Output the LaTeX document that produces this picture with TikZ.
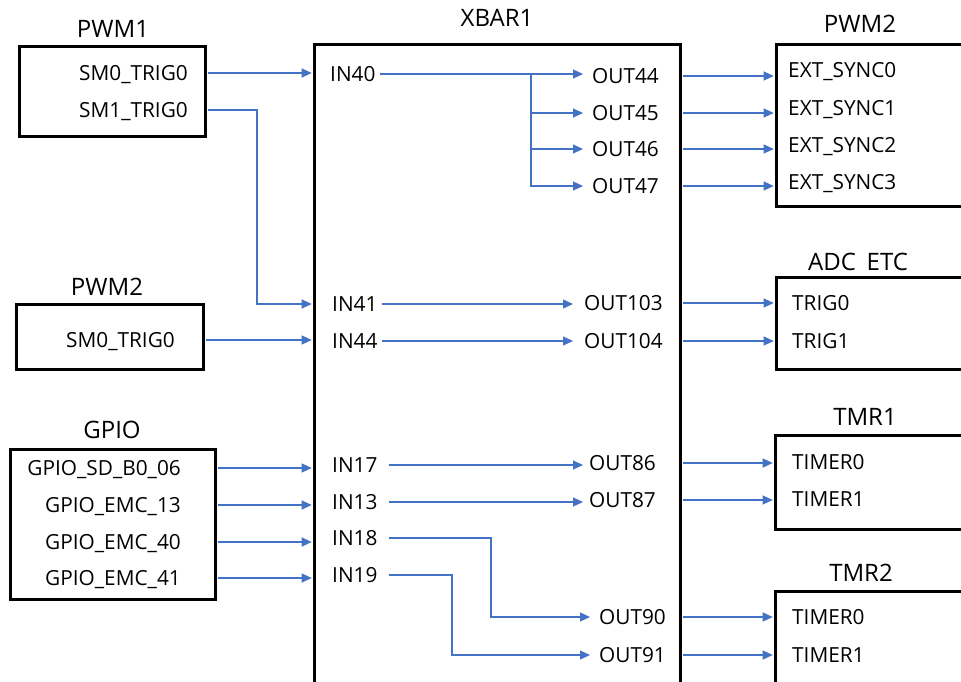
\documentclass[tikz,border=0pt]{standalone}
\usepackage{fontspec}
\setmainfont{Open Sans}
\usetikzlibrary{arrows.meta}
\definecolor{linkblue}{HTML}{4472C4}
\begin{document}
\begin{tikzpicture}[x=1pt,y=-1pt,
  blk/.style={draw=black,line width=2.6pt,inner sep=0pt,anchor=north west},
  ttl/.style={font=\fontsize{24}{28}\selectfont,inner sep=0pt,text height=17pt,text depth=0pt},
  lbl/.style={font=\fontsize{20.8}{25}\selectfont,inner sep=0pt,text height=15pt,text depth=0pt},
  link/.style={draw=linkblue,line width=1.1pt},
  arr/.style={link,-{Triangle[length=10pt,width=9pt]}},
  ext/.style={arr,shorten <=1.3pt,shorten >=1.3pt},
]
\useasboundingbox (0,0) rectangle (961,681);
\clip (0,0) rectangle (961,681);
\fill[white] (0,0) rectangle (961,681);

% titles
\node[ttl] (tpwm1) at (113,29) {PWM1};
\node[ttl] (txbar) at (497,18) {XBAR1};
\node[ttl] (tpwm2r) at (860,24) {PWM2};
\node[ttl] (tpwm2l) at (107,287) {PWM2};
\node[ttl] (tadc) at (858,262) {ADC\raisebox{-4.5pt}{\_}ETC};
\node[ttl] (tgpio) at (112,430) {GPIO};
\node[ttl] (ttmr1) at (865,417) {TMR1};
\node[ttl] (ttmr2) at (861,573) {TMR2};

% boxes
\node[blk,minimum width=186pt,minimum height=90pt] (pwm1) at (18,45) {};
\node[blk,minimum width=187pt,minimum height=65pt] (pwm2l) at (15,303) {};
\node[blk,minimum width=205pt,minimum height=150pt] (gpio) at (9,448) {};
\node[blk,minimum width=366pt,minimum height=680pt] (xbar) at (313,43) {};
\node[blk,minimum width=220pt,minimum height=162pt] (pwm2r) at (775,43) {};
\node[blk,minimum width=220pt,minimum height=92pt] (adc) at (775,276) {};
\node[blk,minimum width=220pt,minimum height=94pt] (tmr1) at (774,434) {};
\node[blk,minimum width=220pt,minimum height=150pt] (tmr2) at (774,590) {};

% source labels
\node[lbl,anchor=east] (sm0a) at (188,73) {SM0\_TRIG0};
\node[lbl,anchor=east] (sm1a) at (188,110) {SM1\_TRIG0};
\node[lbl,anchor=east] (sm0b) at (175,340) {SM0\_TRIG0};
\node[lbl,anchor=east] (g1) at (181,468) {GPIO\_SD\_B0\_06};
\node[lbl,anchor=east] (g2) at (181,505) {GPIO\_EMC\_13};
\node[lbl,anchor=east] (g3) at (181,542) {GPIO\_EMC\_40};
\node[lbl,anchor=east] (g4) at (181,578) {GPIO\_EMC\_41};

% xbar inputs
\node[lbl,anchor=west] (in40) at (330,74) {IN40};
\node[lbl,anchor=west] (in41) at (332,304) {IN41};
\node[lbl,anchor=west] (in44) at (332,341) {IN44};
\node[lbl,anchor=west] (in17) at (332,465) {IN17};
\node[lbl,anchor=west] (in13) at (332,502) {IN13};
\node[lbl,anchor=west] (in18) at (332,538) {IN18};
\node[lbl,anchor=west] (in19) at (332,575) {IN19};

% xbar outputs
\node[lbl,anchor=west] (out44) at (592,76) {OUT44};
\node[lbl,anchor=west] (out45) at (592,113) {OUT45};
\node[lbl,anchor=west] (out46) at (592,149) {OUT46};
\node[lbl,anchor=west] (out47) at (592,186) {OUT47};
\node[lbl,anchor=west] (out103) at (584,303) {OUT103};
\node[lbl,anchor=west] (out104) at (584,341) {OUT104};
\node[lbl,anchor=west] (out86) at (589,463) {OUT86};
\node[lbl,anchor=west] (out87) at (589,500) {OUT87};
\node[lbl,anchor=west] (out90) at (599,617) {OUT90};
\node[lbl,anchor=west] (out91) at (599,655) {OUT91};

% destination labels
\node[lbl,anchor=west] (es0) at (788,70) {EXT\_SYNC0};
\node[lbl,anchor=west] (es1) at (788,108) {EXT\_SYNC1};
\node[lbl,anchor=west] (es2) at (788,145) {EXT\_SYNC2};
\node[lbl,anchor=west] (es3) at (788,182) {EXT\_SYNC3};
\node[lbl,anchor=west] (trig0) at (792,303) {TRIG0};
\node[lbl,anchor=west] (trig1) at (792,341) {TRIG1};
\node[lbl,anchor=west] (t1a) at (792,462) {TIMER0};
\node[lbl,anchor=west] (t1b) at (792,499) {TIMER1};
\node[lbl,anchor=west] (t2a) at (792,617) {TIMER0};
\node[lbl,anchor=west] (t2b) at (792,655) {TIMER1};

% sources -> xbar
\draw[ext] (pwm1.east |- sm0a) -- (xbar.west |- sm0a);
\coordinate (j41) at (257,200);
\draw[ext] (pwm1.east |- sm1a) -| (j41) |- (xbar.west |- in41);
\draw[ext] (pwm2l.east |- sm0b) -- (xbar.west |- sm0b);
\draw[ext] (gpio.east |- g1) -- (xbar.west |- g1);
\draw[ext] (gpio.east |- g2) -- (xbar.west |- g2);
\draw[ext] (gpio.east |- g3) -- (xbar.west |- g3);
\draw[ext] (gpio.east |- g4) -- (xbar.west |- g4);

% inside xbar
\draw[arr,shorten <=4pt,shorten >=9pt] (in40.east) -- (out44.west |- in40);
\coordinate (b40) at (531,74);
\draw[arr,shorten >=9pt] (b40) |- (out45.west);
\draw[arr,shorten >=9pt] (b40) |- (out46.west);
\draw[arr,shorten >=9pt] (b40) |- (out47.west);
\draw[arr,shorten <=4pt,shorten >=11pt] (in41.east) -- (out103.west |- in41);
\draw[arr,shorten <=4pt,shorten >=11pt] (in44.east) -- (out104.west |- in44);
\draw[arr,shorten <=11pt,shorten >=6pt] (in17.east) -- (out86.west |- in17);
\draw[arr,shorten <=11pt,shorten >=6pt] (in13.east) -- (out87.west |- in13);
\coordinate (b18) at (491,580);
\draw[arr,shorten <=11pt,shorten >=9pt] (in18.east) -| (b18) |- (out90.west);
\coordinate (b19) at (452,620);
\draw[arr,shorten <=11pt,shorten >=9pt] (in19.east) -| (b19) |- (out91.west);

% xbar -> destinations
\draw[ext] (xbar.east |- out44) -- (pwm2r.west |- out44);
\draw[ext] (xbar.east |- out45) -- (pwm2r.west |- out45);
\draw[ext] (xbar.east |- out46) -- (pwm2r.west |- out46);
\draw[ext] (xbar.east |- out47) -- (pwm2r.west |- out47);
\draw[ext] (xbar.east |- out103) -- (adc.west |- out103);
\draw[ext] (xbar.east |- out104) -- (adc.west |- out104);
\draw[ext] (xbar.east |- out86) -- (tmr1.west |- out86);
\draw[ext] (xbar.east |- out87) -- (tmr1.west |- out87);
\draw[ext] (xbar.east |- out90) -- (tmr2.west |- out90);
\draw[ext] (xbar.east |- out91) -- (tmr2.west |- out91);
\end{tikzpicture}
\end{document}
